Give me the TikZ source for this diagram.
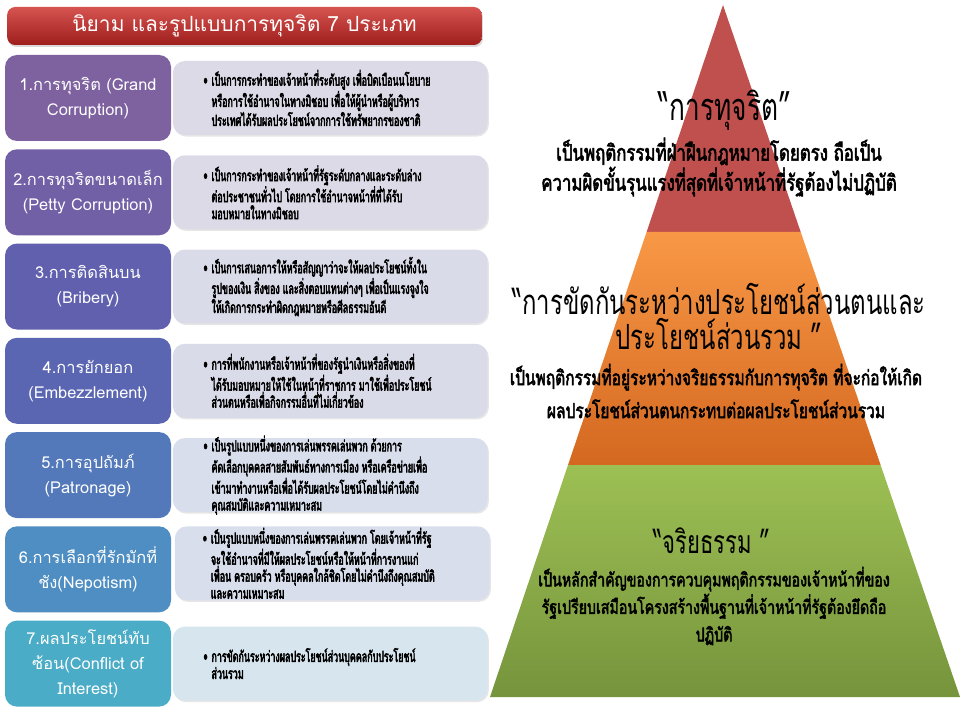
\documentclass[tikz,border=0pt]{standalone}
\usepackage{fontspec}
\newfontfamily\thaifont[Script=Thai]{Loma}
\newfontfamily\thaidesc[Script=Thai,FakeStretch=0.58,FakeBold=3]{Loma}
\newfontfamily\thaibody[Script=Thai,FakeStretch=0.75,FakeBold=2.5]{Loma}
\newfontfamily\thaihead[Script=Thai,FakeStretch=0.69]{Loma}
\usetikzlibrary{positioning,shadows}

\definecolor{titletop}{RGB}{214,84,80}
\definecolor{titlebot}{RGB}{158,30,28}
\definecolor{catA}{RGB}{126,98,160}
\definecolor{catB}{RGB}{113,96,166}
\definecolor{catC}{RGB}{96,96,174}
\definecolor{catD}{RGB}{90,102,178}
\definecolor{catE}{RGB}{83,121,186}
\definecolor{catF}{RGB}{78,142,194}
\definecolor{catG}{RGB}{74,172,198}
\definecolor{descA}{RGB}{221,218,232}
\definecolor{descB}{RGB}{218,219,233}
\definecolor{descC}{RGB}{216,222,236}
\definecolor{descD}{RGB}{215,230,238}
\definecolor{redtier}{RGB}{192,80,77}
\definecolor{orgtop}{RGB}{248,152,70}
\definecolor{orgbot}{RGB}{212,104,32}
\definecolor{grntop}{RGB}{157,192,84}
\definecolor{grnbot}{RGB}{118,148,60}

\newcommand{\bl}{\makebox[6pt][l]{\textbullet}}
\newcommand{\hg}{\hspace*{6pt}}

\begin{document}
\begin{tikzpicture}[x=0.75pt,y=-0.75pt,node distance=5.8pt,
    cat/.style  = {rounded corners=9pt, minimum width=124.5pt, minimum height=64.5pt,
                   align=center, text=white, inner sep=2pt,
                   font=\thaifont\fontsize{12.3}{18.75}\selectfont},
    desc/.style = {rounded corners=9pt, minimum width=236pt, minimum height=55.5pt,
                   drop shadow={opacity=0.2, shadow xshift=1pt, shadow yshift=-1.2pt}},
    dtxt/.style = {anchor=west, align=left, inner sep=0pt,
                   font=\thaidesc\fontsize{11.5}{12.75}\selectfont},
    ptitle/.style = {align=center, font=\thaihead\fontsize{26}{26.25}\selectfont},
    pbody/.style  = {align=center, font=\thaibody\fontsize{16.8}{22.5}\selectfont}]
  \useasboundingbox (0,0) rectangle (960,720);

  % title bar
  \node[rounded corners=6pt, top color=titletop, bottom color=titlebot,
        minimum width=356pt, minimum height=28.5pt, text=white,
        drop shadow={opacity=0.3, shadow xshift=0.8pt, shadow yshift=-1.5pt},
        font=\thaifont\fontsize{15.7}{20}\selectfont] (title) at (244.5,26)
        {นิยาม และรูปแบบการทุจริต 7 ประเภท};

  % seven kinds, left column
  \node[cat, fill=catA] (cat_grand) at (88,98) {1.การทุจริต (Grand\\Corruption)};
  \node[cat, fill=catB, below=of cat_grand]  (cat_petty)  {2.การทุจริตขนาดเล็ก\\(Petty Corruption)};
  \node[cat, fill=catC, below=of cat_petty]  (cat_bribe)  {3.การติดสินบน\\(Bribery)};
  \node[cat, fill=catD, below=of cat_bribe]  (cat_embez)  {4.การยักยอก\\(Embezzlement)};
  \node[cat, fill=catE, below=of cat_embez]  (cat_patron) {5.การอุปถัมภ์\\(Patronage)};
  \node[cat, fill=catF, below=of cat_patron] (cat_nepot)  {6.การเลือกที่รักมักที่\\ชัง(Nepotism)};
  \node[cat, fill=catG, below=of cat_nepot]  (cat_coi)    {7.ผลประโยชน์ทับ\\ซ้อน(Conflict of\\Interest)};

  % description boxes
  \node[desc, fill=descA, right=1pt of cat_grand]  (desc_grand)  {};
  \node[desc, fill=descA, right=1pt of cat_petty]  (desc_petty)  {};
  \node[desc, fill=descB, right=1pt of cat_bribe]  (desc_bribe)  {};
  \node[desc, fill=descB, right=1pt of cat_embez]  (desc_embez)  {};
  \node[desc, fill=descC, right=1pt of cat_patron] (desc_patron) {};
  \node[desc, fill=descC, right=2.5pt of cat_nepot, yshift=4.5pt] (desc_nepot) {};
  \node[desc, fill=descD, right=1pt of cat_coi]    (desc_coi)    {};

  % description texts
  \node[dtxt] (txt_grand) at ([xshift=23pt]desc_grand.west)
    {\bl เป็นการกระทำของเจ้าหน้าที่ระดับสูง เพื่อบิดเบือนนโยบาย\\
     \hg หรือการใช้อำนาจในทางมิชอบ เพื่อให้ผู้นำหรือผู้บริหาร\\
     \hg ประเทศได้รับผลประโยชน์จากการใช้ทรัพยากรของชาติ};
  \node[dtxt] (txt_petty) at ([xshift=23pt]desc_petty.west)
    {\bl เป็นการกระทำของเจ้าหน้าที่รัฐระดับกลางและระดับล่าง\\
     \hg ต่อประชาชนทั่วไป โดยการใช้อำนาจหน้าที่ที่ได้รับ\\
     \hg มอบหมายในทางมิชอบ};
  \node[dtxt] (txt_bribe) at ([xshift=23pt]desc_bribe.west)
    {\bl เป็นการเสนอการให้หรือสัญญาว่าจะให้ผลประโยชน์ทั้งใน\\
     \hg รูปของเงิน สิ่งของ และสิ่งตอบแทนต่างๆ เพื่อเป็นแรงจูงใจ\\
     \hg ให้เกิดการกระทำผิดกฎหมายหรือศีลธรรมอันดี};
  \node[dtxt] (txt_embez) at ([xshift=23pt]desc_embez.west)
    {\bl การที่พนักงานหรือเจ้าหน้าที่ของรัฐนำเงินหรือสิ่งของที่\\
     \hg ได้รับมอบหมายให้ใช้ในหน้าที่ราชการ มาใช้เพื่อประโยชน์\\
     \hg ส่วนตนหรือเพื่อกิจกรรมอื่นที่ไม่เกี่ยวข้อง};
  \node[dtxt] (txt_patron) at ([xshift=23pt]desc_patron.west)
    {\bl เป็นรูปแบบหนึ่งของการเล่นพรรคเล่นพวก ด้วยการ\\
     \hg คัดเลือกบุคคลสายสัมพันธ์ทางการเมือง หรือเครือข่ายเพื่อ\\
     \hg เข้ามาทำงานหรือเพื่อได้รับผลประโยชน์โดยไม่คำนึงถึง\\
     \hg คุณสมบัติและความเหมาะสม};
  \node[dtxt] (txt_nepot) at ([xshift=21pt]desc_nepot.west)
    {\bl เป็นรูปแบบหนึ่งของการเล่นพรรคเล่นพวก โดยเจ้าหน้าที่รัฐ\\
     \hg จะใช้อำนาจที่มีให้ผลประโยชน์หรือให้หน้าที่การงานแก่\\
     \hg เพื่อน ครอบครัว หรือบุคคลใกล้ชิดโดยไม่คำนึงถึงคุณสมบัติ\\
     \hg และความเหมาะสม};
  \node[dtxt] (txt_coi) at ([xshift=23pt]desc_coi.west)
    {\bl การขัดกันระหว่างผลประโยชน์ส่วนบุคคลกับประโยชน์\\
     \hg ส่วนรวม};

  % pyramid
  \coordinate (apex)  at (723,5);
  \coordinate (red_l) at (646.6,232);
  \coordinate (red_r) at (800.7,232);
  \coordinate (org_l) at (568,465);
  \coordinate (org_r) at (880.6,465);
  \coordinate (grn_l) at (490,697);
  \coordinate (grn_r) at (960,697);
  \fill[redtier] (apex) -- (red_r) -- (red_l) -- cycle;
  \shade[top color=orgtop, bottom color=orgbot] (red_l) -- (red_r) -- (org_r) -- (org_l) -- cycle;
  \shade[top color=grntop, bottom color=grnbot] (org_l) -- (org_r) -- (grn_r) -- (grn_l) -- cycle;

  \node[ptitle, font=\thaihead\fontsize{28.5}{28}\selectfont] (head_corrupt) at (725,110) {“การทุจริต”};
  \node[pbody]  (body_corrupt) at (719,167)
    {เป็นพฤติกรรมที่ฝ่าฝืนกฎหมายโดยตรง ถือเป็น\\ความผิดขั้นรุนแรงที่สุดที่เจ้าหน้าที่รัฐต้องไม่ปฏิบัติ};
  \node[ptitle] (head_conflict) at (719,316)
    {“การขัดกันระหว่างประโยชน์ส่วนตนและ\\ประโยชน์ส่วนรวม ”};
  \node[pbody, font=\thaibody\fontsize{15.5}{24.75}\selectfont] (body_conflict) at (716,391)
    {เป็นพฤติกรรมที่อยู่ระหว่างจริยธรรมกับการทุจริต ที่จะก่อให้เกิด\\ผลประโยชน์ส่วนตนกระทบต่อผลประโยชน์ส่วนรวม};
  \node[ptitle, font=\thaihead\fontsize{24}{26}\selectfont] (head_ethics) at (712,541) {“จริยธรรม ”};
  \node[pbody, font=\thaibody\fontsize{14.2}{20.6}\selectfont] (body_ethics) at (714,606)
    {เป็นหลักสำคัญของการควบคุมพฤติกรรมของเจ้าหน้าที่ของ\\รัฐเปรียบเสมือนโครงสร้างพื้นฐานที่เจ้าหน้าที่รัฐต้องยึดถือ\\ปฏิบัติ};
\end{tikzpicture}
\end{document}
